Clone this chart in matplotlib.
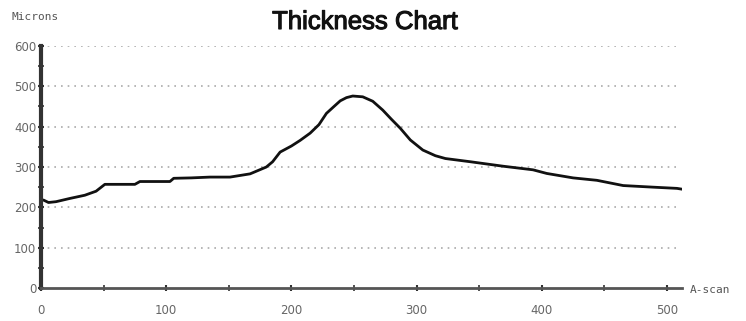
import matplotlib
matplotlib.use("Agg")
import matplotlib.pyplot as plt
import matplotlib.patheffects as pe
from matplotlib.ticker import MultipleLocator

ascan = [0, 2, 6, 12, 23, 35, 44, 51, 60, 75, 79, 90, 103, 106, 120, 135, 151, 167,
         180, 185, 191, 200, 207, 215, 222, 228, 234, 239, 244, 249, 257, 265, 273,
         280, 287, 295, 305, 315, 323, 343, 369, 393, 404, 425, 444, 465, 489, 508, 512]
microns = [218, 218, 212, 214, 222, 230, 240, 257, 257, 257, 264, 264, 264, 272, 273, 275, 275, 283,
           300, 313, 337, 352, 366, 384, 405, 433, 450, 464, 472, 476, 474, 463, 441,
           418, 396, 367, 342, 328, 321, 313, 302, 293, 284, 273, 267, 254, 250, 247, 245]

yticks = [0, 100, 200, 300, 400, 500, 600]
xticks = [0, 100, 200, 300, 400, 500]

fig = plt.figure(figsize=(7.46, 3.21), dpi=100)
ax = fig.add_axes([41/746, 33/321, 641/746, 242/321])
ax.plot(ascan, microns, color="#111111", lw=2.0, solid_joinstyle="round")
ax.set_xlim(0, 512)
ax.set_ylim(0, 600)
ax.set_xticks(xticks)
ax.set_yticks(yticks)
ax.xaxis.set_minor_locator(MultipleLocator(50))
ax.yaxis.set_minor_locator(MultipleLocator(50))
for v in yticks[1:]:
    ax.plot([0, 508], [v, v], color="#aaaaaa", lw=1.2, linestyle=(0, (1, 3)), zorder=0)
ax.spines["top"].set_visible(False)
ax.spines["right"].set_visible(False)
ax.spines["left"].set_linewidth(3)
ax.spines["left"].set_color("#333333")
ax.spines["bottom"].set_linewidth(2)
ax.spines["bottom"].set_color("#555555")
ax.tick_params(axis="both", which="major", direction="inout", length=5, width=1.5,
               color="#333333", labelsize=8.5, labelcolor="#666666", pad=4)
ax.tick_params(axis="both", which="minor", direction="inout", length=4, width=1.2, color="#333333")
ax.tick_params(axis="x", pad=9)
ax.tick_params(axis="y", pad=1)
fig.text(365/746, 1 - 22/321, "Thickness Chart", ha="center", va="center", fontsize=18.5,
         family="Liberation Sans", color="#111111",
         path_effects=[pe.withStroke(linewidth=0.8, foreground="#111111")])
fig.text(12/746, 1 - 17/321, "Microns", ha="left", va="center", fontsize=8,
         family="DejaVu Sans Mono", color="#555555")
fig.text(690/746, 1 - 290/321, "A-scan", ha="left", va="center", fontsize=8,
         family="DejaVu Sans Mono", color="#555555")
fig.savefig("out.png", dpi=100)
